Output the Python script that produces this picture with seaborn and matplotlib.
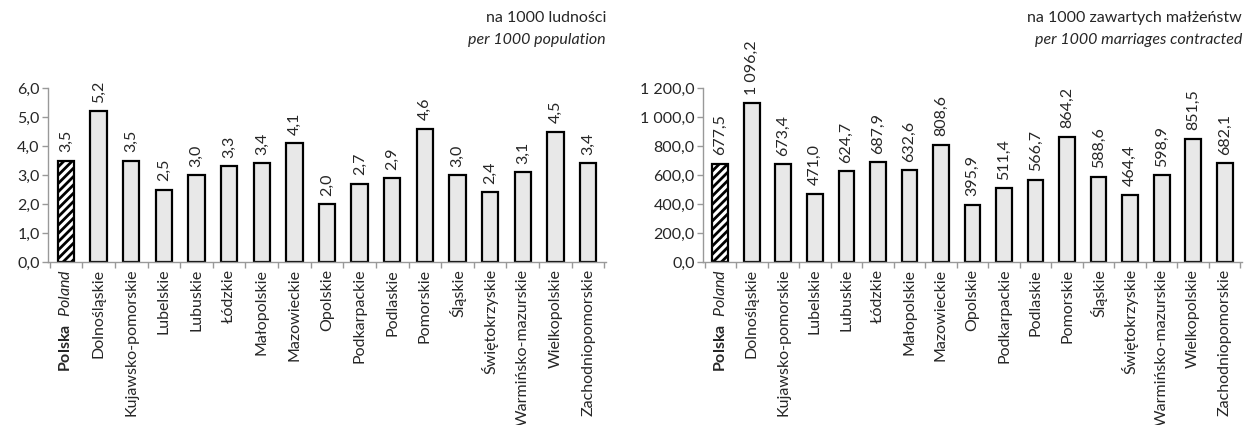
import matplotlib
matplotlib.use("Agg")
import matplotlib.pyplot as plt
import seaborn as sns
import pandas as pd
import numpy as np
from matplotlib.ticker import FixedLocator, FuncFormatter

sns.set_theme(style="white")
plt.rcParams['font.family'] = ['Lato', 'DejaVu Sans']
plt.rcParams['mathtext.fontset'] = 'custom'
plt.rcParams['mathtext.rm'] = 'Lato'
plt.rcParams['mathtext.bf'] = 'Lato:bold'
plt.rcParams['mathtext.it'] = 'Lato:italic'
plt.rcParams['hatch.linewidth'] = 2.0

regions = ["Polska", "Dolnośląskie", "Kujawsko-pomorskie", "Lubelskie", "Lubuskie",
           "Łódzkie", "Małopolskie", "Mazowieckie", "Opolskie", "Podkarpackie",
           "Podlaskie", "Pomorskie", "Śląskie", "Świętokrzyskie", "Warmińsko-mazurskie",
           "Wielkopolskie", "Zachodniopomorskie"]
tick_labels = [r"$\mathbf{Polska}\ \ \mathit{Poland}$"] + regions[1:]
per_population = [3.5, 5.2, 3.5, 2.5, 3.0, 3.3, 3.4, 4.1, 2.0, 2.7, 2.9, 4.6, 3.0, 2.4, 3.1, 4.5, 3.4]
per_marriages = [677.5, 1096.2, 673.4, 471.0, 624.7, 687.9, 632.6, 808.6, 395.9, 511.4,
                 566.7, 864.2, 588.6, 464.4, 598.9, 851.5, 682.1]
left_title = ("na 1000 ludności", "per 1000 population")
right_title = ("na 1000 zawartych małżeństw", "per 1000 marriages contracted")

FS = 11.5


def fmt(v):
    s = f"{v:,.1f}"
    return s.replace(",", " ").replace(".", ",")


fig = plt.figure(figsize=(12.45, 4.25), dpi=100)
ax1 = fig.add_axes([48 / 1245, 1 - 262 / 425, (606 - 48) / 1245, (262 - 88) / 425])
ax2 = fig.add_axes([703 / 1245, 1 - 262 / 425, (1242 - 703) / 1245, (262 - 88) / 425])


def draw(ax, values, ymax, step, titles):
    df = pd.DataFrame({"region": regions, "value": values})
    sns.barplot(data=df, x="region", y="value", ax=ax, color="#E8E8E8",
                edgecolor="black", linewidth=1.6, width=0.5, saturation=1)
    p0 = ax.patches[0]
    p0.set_facecolor("white")
    p0.set_hatch("////")
    for i, v in enumerate(values):
        ax.annotate(fmt(v), (i, v), xytext=(0, 6), textcoords="offset points",
                    rotation=90, ha="center", va="bottom", fontsize=FS,
                    annotation_clip=False)
    ax.set_ylim(0, ymax)
    ax.set_xlim(-0.55, len(values) - 0.45)
    ax.yaxis.set_major_locator(FixedLocator(np.arange(0, ymax + step / 2, step)))
    ax.yaxis.set_major_formatter(FuncFormatter(lambda v, p: fmt(v)))
    ax.set_xticks(range(len(values)))
    ax.set_xticklabels(tick_labels, rotation=90, fontsize=FS)
    ax.xaxis.set_minor_locator(FixedLocator(np.arange(-0.5, len(values), 1)))
    ax.tick_params(axis="x", which="major", length=0, pad=5)
    ax.tick_params(axis="x", which="minor", length=4, width=1, color="#999999", direction="out", bottom=True)
    ax.tick_params(axis="y", length=4, width=1, color="#999999", direction="out", left=True,
                   labelsize=FS, pad=2)
    ax.set_xlabel("")
    ax.set_ylabel("")
    for s in ["top", "right"]:
        ax.spines[s].set_visible(False)
    for s in ["left", "bottom"]:
        ax.spines[s].set_color("#999999")
        ax.spines[s].set_linewidth(1)
    x_fig = ax.get_position().x1
    fig.text(x_fig, 1 - 18 / 425, titles[0], ha="right", va="center", fontsize=FS)
    fig.text(x_fig, 1 - 40 / 425, titles[1], ha="right", va="center", fontsize=FS,
             style="italic")


draw(ax1, per_population, 6.0, 1.0, left_title)
draw(ax2, per_marriages, 1200.0, 200.0, right_title)

fig.savefig("out.png", dpi=100)
